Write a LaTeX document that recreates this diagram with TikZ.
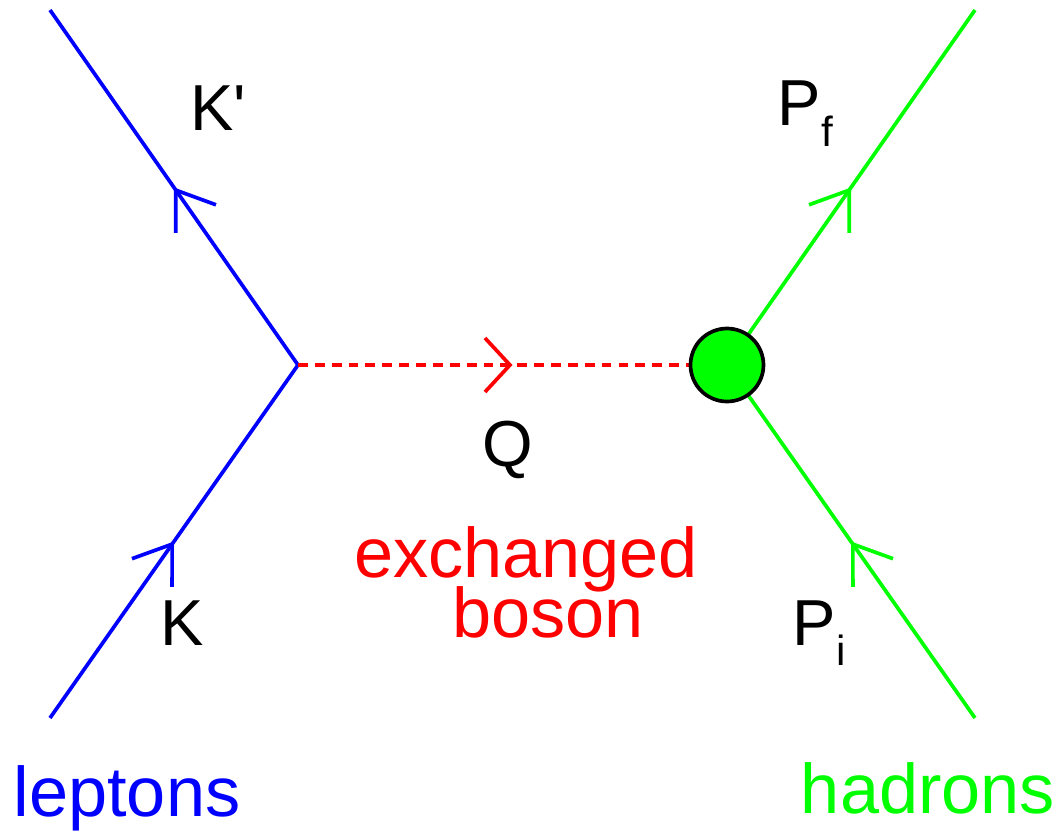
\documentclass[tikz,border=0pt]{standalone}
\usepackage{fontspec}
\setmainfont{Liberation Sans}
\usetikzlibrary{arrows.meta, decorations.markings}
\definecolor{lepblue}{HTML}{0000FF}
\definecolor{hadgreen}{HTML}{00FF00}
\definecolor{bosred}{HTML}{FF0000}

\begin{document}
\begin{tikzpicture}[
  fermion/.style={line width=1.05pt, postaction={decorate},
    decoration={markings, mark=at position 0.5 with
      {\arrow{Straight Barb[length=3.5mm, width=4.9mm, line width=1.05pt]}}}},
  boson/.style={bosred, line width=1.05pt, dash pattern=on 2.8pt off 2pt,
    postaction={decorate},
    decoration={markings, mark=at position 0.5 with
      {\arrow{Straight Barb[length=2.5mm, width=5.4mm, line width=1.05pt]}}}},
  blob/.style={circle, draw=black, fill=hadgreen, line width=1.05pt,
    minimum size=7.3mm, inner sep=0pt},
  lbl/.style={black, inner sep=0pt, font=\fontsize{18.5}{20}\selectfont},
  tag/.style={inner sep=0pt, font=\fontsize{20}{22}\selectfont},
]

% ══════════════════════════════════════════════════════
% Frame (1 px of the reference = 0.01 cm)
% ══════════════════════════════════════════════════════
\useasboundingbox (0,0) rectangle (10.58,-8.34);

% ══════════════════════════════════════════════════════
% Vertices and external legs
% ══════════════════════════════════════════════════════
\coordinate (lvert) at (2.98,-3.65);
\coordinate (hvert) at (7.27,-3.65);
\coordinate (kin)   at (0.50,-7.18);
\coordinate (kout)  at (0.50,-0.10);
\coordinate (pin)   at (9.75,-7.18);
\coordinate (pout)  at (9.75,-0.10);

% ══════════════════════════════════════════════════════
% Lepton line
% ══════════════════════════════════════════════════════
\draw[fermion, lepblue] (kin) -- (lvert);
\draw[fermion, lepblue] (lvert) -- (kout);

% ══════════════════════════════════════════════════════
% Hadron line
% ══════════════════════════════════════════════════════
\draw[fermion, hadgreen] (pin) -- (hvert);
\draw[fermion, hadgreen] (hvert) -- (pout);

% ══════════════════════════════════════════════════════
% Exchanged boson
% ══════════════════════════════════════════════════════
\draw[boson] (lvert) -- (hvert);

% Hadronic vertex blob
\node[blob] (hblob) at (hvert) {};

% ══════════════════════════════════════════════════════
% Momentum labels
% ══════════════════════════════════════════════════════
\node[lbl, anchor=base] (kplab) at (2.18,-1.30) {K\textquotesingle};
\node[lbl, anchor=base west] (pflab) at (7.77,-1.25)
  {P\raisebox{-0.21cm}{\fontsize{12}{13}\selectfont f}};
\node[lbl, anchor=base] (qlab) at (5.08,-4.66) {Q};
\node[lbl, anchor=base] (klab) at (1.82,-6.45) {K};
\node[lbl, anchor=base west] (pilab) at (7.92,-6.45)
  {P\raisebox{-0.20cm}{\fontsize{12}{13}\selectfont i}};

% ══════════════════════════════════════════════════════
% Particle names
% ══════════════════════════════════════════════════════
\node[tag, bosred, anchor=base] (exlab) at (5.26,-5.77) {exchanged};
\node[tag, bosred, anchor=base] (bolab) at (5.48,-6.37) {boson};
\node[tag, lepblue, anchor=base] (leplab) at (1.27,-8.17) {leptons};
\node[tag, hadgreen, anchor=base] (hadlab) at (9.28,-8.13) {hadrons};

\end{tikzpicture}
\end{document}
